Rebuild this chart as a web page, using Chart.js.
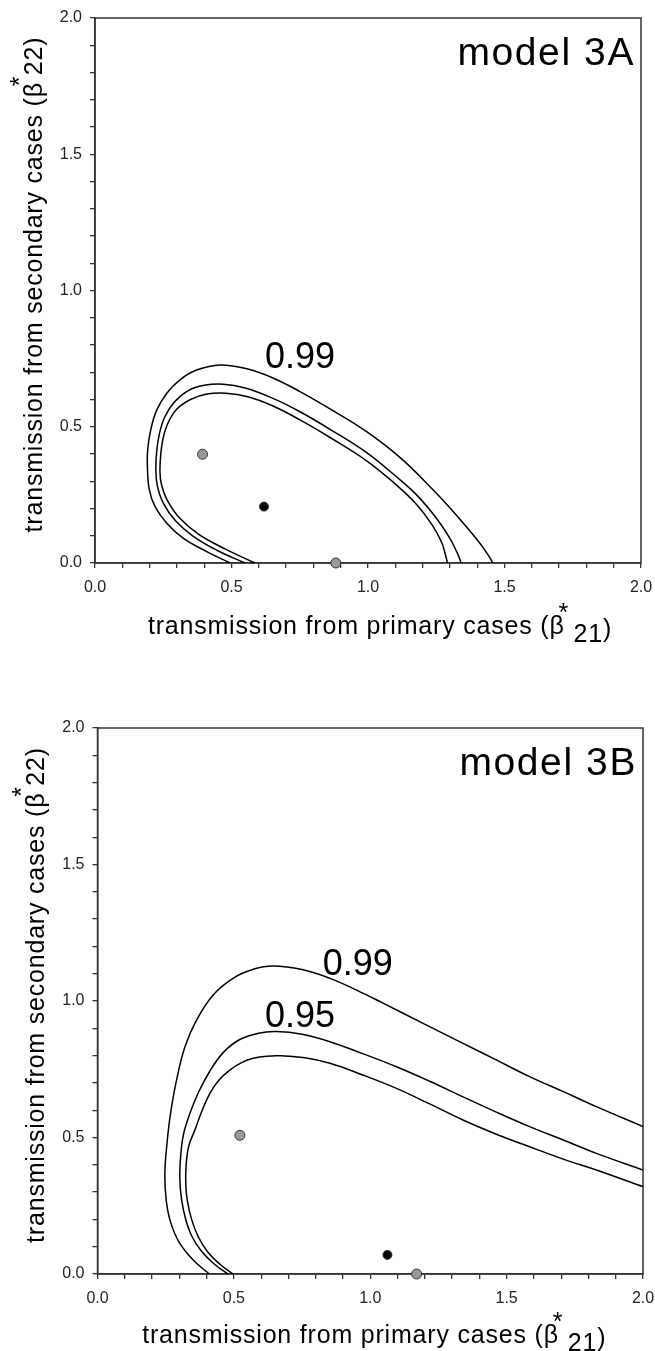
<!DOCTYPE html>
<html>
<head>
<meta charset="utf-8">
<script src="https://cdn.jsdelivr.net/npm/chart.js@4.4.1/dist/chart.umd.min.js"></script>
<style>
  html, body { margin: 0; padding: 0; background: #fff; }
  body { width: 655px; height: 1351px; position: relative; overflow: hidden; }
  .panel { position: absolute; left: 0; width: 655px; }
  #p1 { top: 0; height: 660px; }
  #p2 { top: 690px; height: 661px; }
</style>
</head>
<body>
<div class="panel" id="p1"><canvas id="c1"></canvas></div>
<div class="panel" id="p2"><canvas id="c2"></canvas></div>
<script>
const FONT = "'Liberation Sans', Arial, Helvetica, sans-serif";
const TICK_LABELS = ['0.0', '0.5', '1.0', '1.5', '2.0'];

// contour lines, [x, y], walked from the left foot round to the right foot
const A_OUTER = [[0.495,0],[0.409,0.042],[0.324,0.090],[0.263,0.146],[0.220,0.207],[0.199,0.268],[0.192,0.353],[0.193,0.415],[0.204,0.488],[0.226,0.561],[0.263,0.623],[0.311,0.672],[0.372,0.708],[0.458,0.727],[0.56,0.712],[0.65,0.68],[0.751,0.629],[0.87,0.56],[0.995,0.482],[1.12,0.385],[1.239,0.268],[1.32,0.18],[1.40,0.085],[1.44,0.03],[1.457,0]];
const A_MID   = [[0.549,0],[0.45,0.045],[0.36,0.098],[0.295,0.155],[0.25,0.22],[0.228,0.285],[0.223,0.345],[0.226,0.41],[0.236,0.475],[0.255,0.535],[0.29,0.59],[0.34,0.632],[0.40,0.652],[0.47,0.656],[0.55,0.642],[0.65,0.605],[0.751,0.555],[0.87,0.485],[0.995,0.405],[1.10,0.32],[1.178,0.25],[1.25,0.165],[1.30,0.09],[1.33,0.03],[1.341,0]];
const A_INNER = [[0.586,0],[0.48,0.05],[0.38,0.105],[0.31,0.165],[0.265,0.23],[0.243,0.29],[0.238,0.335],[0.241,0.40],[0.25,0.46],[0.268,0.515],[0.30,0.565],[0.35,0.60],[0.41,0.62],[0.48,0.623],[0.56,0.61],[0.65,0.577],[0.751,0.525],[0.87,0.455],[0.995,0.375],[1.10,0.29],[1.178,0.215],[1.235,0.14],[1.27,0.075],[1.285,0.025],[1.291,0]];

const B_OUTER = [[0.41,0],[0.351,0.051],[0.300,0.115],[0.268,0.19],[0.252,0.27],[0.247,0.369],[0.255,0.48],[0.268,0.589],[0.290,0.711],[0.321,0.833],[0.363,0.930],[0.424,1.022],[0.497,1.083],[0.571,1.116],[0.644,1.128],[0.75,1.115],[0.852,1.083],[0.95,1.04],[1.047,0.992],[1.19,0.92],[1.340,0.845],[1.46,0.785],[1.584,0.723],[1.71,0.667],[1.829,0.613],[2.0,0.540]];
const B_MID   = [[0.479,0],[0.43,0.035],[0.38,0.085],[0.345,0.14],[0.322,0.205],[0.308,0.275],[0.302,0.344],[0.304,0.42],[0.315,0.51],[0.339,0.589],[0.37,0.665],[0.41,0.74],[0.46,0.81],[0.52,0.858],[0.59,0.882],[0.656,0.888],[0.75,0.878],[0.852,0.851],[0.97,0.808],[1.096,0.759],[1.22,0.705],[1.340,0.649],[1.46,0.594],[1.584,0.540],[1.71,0.49],[1.829,0.442],[2.0,0.381]];
const B_INNER = [[0.497,0],[0.45,0.035],[0.405,0.08],[0.37,0.135],[0.345,0.2],[0.33,0.265],[0.324,0.320],[0.325,0.40],[0.335,0.47],[0.357,0.527],[0.38,0.59],[0.412,0.662],[0.445,0.71],[0.485,0.747],[0.53,0.775],[0.571,0.790],[0.62,0.798],[0.675,0.799],[0.76,0.792],[0.852,0.772],[0.97,0.73],[1.096,0.680],[1.22,0.622],[1.340,0.564],[1.46,0.513],[1.584,0.466],[1.71,0.42],[1.829,0.381],[2.0,0.320]];

// estimates: grey = the two marginal fits, black = joint fit
const A_GREY  = [[0.394,0.399],[0.882,0]];
const A_BLACK = [[0.619,0.207]];
const B_GREY  = [[0.522,0.508],[1.170,0]];
const B_BLACK = [[1.063,0.070]];

// contour labels: [text, x, y] (left end of text, baseline)
const A_LABELS = [['0.99', 0.623, 0.716]];
const B_LABELS = [['0.99', 0.826, 1.095], ['0.95', 0.614, 0.906]];

const toXY = (arr) => arr.map(([x, y]) => ({ x, y }));

function tickLabel(v) {
  const i = Math.round(v * 2);
  return Math.abs(v * 2 - i) < 1e-6 ? TICK_LABELS[i] : '';
}

function axis(ticks, afterFit) {
  return {
    type: 'linear',
    min: 0,
    max: 2,
    afterFit,
    ticks: Object.assign({
      stepSize: 0.1,
      autoSkip: false,
      maxRotation: 0,
      callback: tickLabel,
      color: '#222',
    }, ticks),
    grid: { drawOnChartArea: false, drawTicks: true, tickLength: 5, tickColor: '#333', lineWidth: 1.3 },
    border: { color: '#333', width: 1.5 },
  };
}

/** Box round the plot plus all the hand-placed text. */
function decorations(o) {
  return {
    id: 'decor',
    beforeDatasetsDraw(chart) {
      const { ctx, chartArea: a } = chart;
      ctx.save();
      ctx.strokeStyle = '#333';
      ctx.lineWidth = 1.5;
      ctx.strokeRect(a.left, a.top, a.right - a.left, a.bottom - a.top);
      ctx.restore();
    },
    afterDraw(chart) {
      const { ctx, chartArea: a, scales } = chart;
      ctx.save();
      ctx.fillStyle = '#000';
      ctx.textBaseline = 'alphabetic';

      // x title
      ctx.font = `25px ${FONT}`;
      ctx.letterSpacing = '0.8px';
      ctx.textAlign = 'left';
      const xMain = 'transmission from primary cases (β';
      const w1 = ctx.measureText(xMain).width;
      const w2 = ctx.measureText('21').width;
      const w3 = ctx.measureText(')').width;
      const gap = 9;
      const cx = (a.left + a.right) / 2 + o.xTitleShift;
      const bx = cx - (w1 + gap + w2 + w3) / 2;
      const by = a.bottom + o.xTitleDrop;
      ctx.fillText(xMain, bx, by);
      ctx.fillText('*', bx + w1 - 6, by - 13);
      ctx.fillText('21', bx + w1 + gap, by + 8);
      ctx.fillText(')', bx + w1 + gap + w2, by + 3);

      // y title, reading bottom to top
      const yMain = 'transmission from secondary cases (β';
      const v1 = ctx.measureText(yMain).width;
      const v2 = ctx.measureText('22)').width;
      const ygap = 7;
      ctx.translate(a.left - o.yTitleOff, (a.top + a.bottom) / 2 + o.yTitleShift);
      ctx.rotate(-Math.PI / 2);
      const sx = -(v1 + ygap + v2) / 2;
      ctx.fillText(yMain, sx, 0);
      ctx.fillText('*', sx + v1 - 4, -14);
      ctx.fillText('22)', sx + v1 + ygap, 0);
      ctx.setTransform(1, 0, 0, 1, 0, 0);

      // contour labels
      ctx.font = `36px ${FONT}`;
      ctx.letterSpacing = '0px';
      for (const [t, x, y] of o.labels) {
        ctx.fillText(t, scales.x.getPixelForValue(x), scales.y.getPixelForValue(y));
      }

      // panel name
      ctx.font = `39px ${FONT}`;
      ctx.letterSpacing = '1.6px';
      ctx.textAlign = 'right';
      ctx.fillText(o.name, a.right - 6, a.top + 47);
      ctx.restore();
    },
  };
}

function makeChart(id, o) {
  const line = (pts) => ({
    data: toXY(pts), showLine: true, tension: 0.4, borderColor: '#000', borderWidth: 1.5,
    pointRadius: 0, pointHoverRadius: 0, fill: false,
  });
  const dots = (pts, color, r) => ({
    data: toXY(pts), showLine: false, pointRadius: r, pointHoverRadius: r,
    backgroundColor: color, borderColor: '#333', borderWidth: 1, clip: false,
  });
  return new Chart(document.getElementById(id), {
    type: 'scatter',
    data: {
      datasets: [
        ...o.curves.map(line),
        dots(o.grey, '#999', 5),
        dots(o.black, '#000', 4.5),
      ],
    },
    options: {
      responsive: true,
      maintainAspectRatio: false,
      animation: false,
      devicePixelRatio: 1,
      layout: { padding: { top: o.padTop, right: o.padRight, left: 0, bottom: 0 } },
      plugins: { legend: { display: false }, tooltip: { enabled: false } },
      scales: {
        // x label gap comes from lineHeight, so the tick padding does not widen the right margin
        x: axis({ padding: 0, font: { family: FONT, size: 16, lineHeight: 2.4 } }, (s) => { s.height = o.xHeight; }),
        y: axis({ padding: 8, font: { family: FONT, size: 16 } }, (s) => { s.width = o.yWidth; }),
      },
    },
    plugins: [decorations(o)],
  });
}

makeChart('c1', {
  curves: [A_OUTER, A_MID, A_INNER], grey: A_GREY, black: A_BLACK, labels: A_LABELS,
  name: 'model 3A', padTop: 18, padRight: 14, yWidth: 95, xHeight: 97,
  xTitleShift: 12, xTitleDrop: 71, yTitleOff: 53, yTitleShift: -6,
});
makeChart('c2', {
  curves: [B_OUTER, B_MID, B_INNER], grey: B_GREY, black: B_BLACK, labels: B_LABELS,
  name: 'model 3B', padTop: 38, padRight: 12, yWidth: 97.5, xHeight: 77,
  xTitleShift: 4, xTitleDrop: 69, yTitleOff: 54, yTitleShift: -6,
});
</script>
</body>
</html>
